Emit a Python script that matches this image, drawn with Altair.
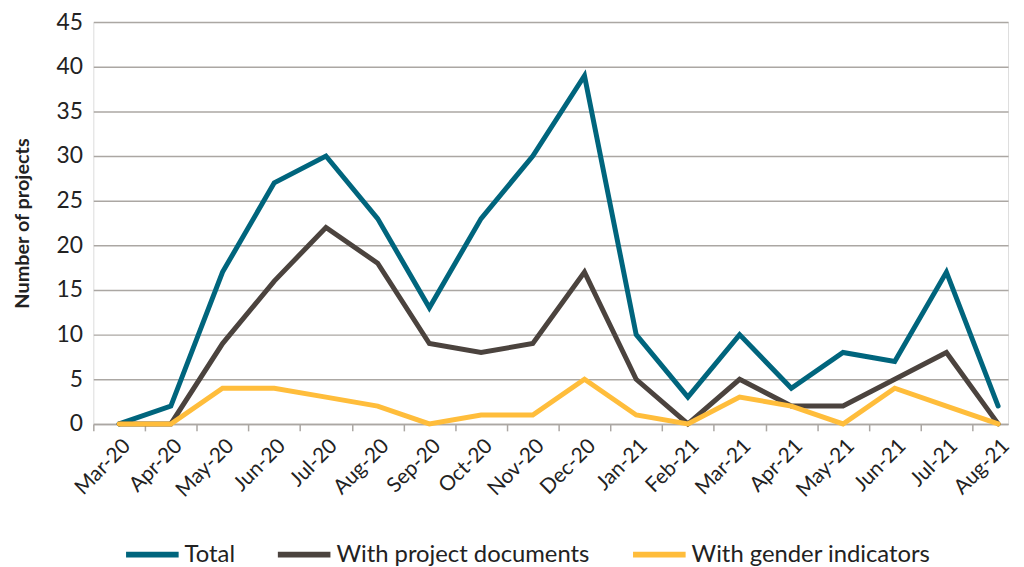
import altair as alt
import pandas as pd

months = ["Mar-20", "Apr-20", "May-20", "Jun-20", "Jul-20", "Aug-20", "Sep-20", "Oct-20",
          "Nov-20", "Dec-20", "Jan-21", "Feb-21", "Mar-21", "Apr-21", "May-21", "Jun-21",
          "Jul-21", "Aug-21"]
total = [0, 2, 17, 27, 30, 23, 13, 23, 30, 39, 10, 3, 10, 4, 8, 7, 17, 2]
with_docs = [0, 0, 9, 16, 22, 18, 9, 8, 9, 17, 5, 0, 5, 2, 2, 5, 8, 0]
with_gender = [0, 0, 4, 4, 3, 2, 0, 1, 1, 5, 1, 0, 3, 2, 0, 4, 2, 0]

series_names = ["Total", "With project documents", "With gender indicators"]
series_values = [total, with_docs, with_gender]
colors = ["#00657D", "#4B433E", "#FFBD3B"]

rows = []
for name, vals in zip(series_names, series_values):
    for m, v in zip(months, vals):
        rows.append({"month": m, "value": v, "series": name})
df = pd.DataFrame(rows)

FONT = "Lato"
TXT = "#222222"
GRID = "#ABA7A3"

x = alt.X(
    "month:O", sort=months,
    scale=alt.Scale(type="point", padding=0.3455, align=0.7222),
    axis=alt.Axis(title=None, labelAngle=-45, labelFontSize=21, labelFont=FONT,
                  labelColor=TXT, tickOffset=-26, labelOffset=26, tickSize=7,
                  tickColor=GRID, tickWidth=1.5, domainColor=GRID, domainWidth=1.5,
                  labelPadding=4, grid=False),
)
y = alt.Y(
    "value:Q",
    scale=alt.Scale(domain=[0, 45], nice=False),
    axis=alt.Axis(title="Number of projects", values=list(range(0, 50, 5)),
                  labelFontSize=23, labelFont=FONT, labelColor=TXT,
                  titleFontSize=20, titleFont=FONT, titleColor=TXT, titleFontWeight="bold",
                  titlePadding=24, ticks=False, domain=False, labelPadding=11,
                  grid=True, gridColor=GRID, gridWidth=1.5),
)
color = alt.Color(
    "series:N",
    scale=alt.Scale(domain=series_names, range=colors),
    legend=alt.Legend(title=None, orient="none", legendX=30, legendY=507,
                      direction="horizontal", symbolType="stroke", symbolStrokeWidth=6,
                      symbolSize=2809, labelFontSize=24, labelFont=FONT, labelColor=TXT,
                      labelOffset=3, columnPadding=31, labelLimit=0, padding=0),
)

layers = []
for name in series_names:
    layers.append(
        alt.Chart(df)
        .transform_filter(alt.datum.series == name)
        .mark_line(strokeWidth=5, strokeJoin="miter", strokeCap="round")
        .encode(x=x, y=y, color=color)
    )

chart = alt.layer(*layers).properties(
    width=922, height=405,
    autosize=alt.AutoSizeParams(type="none"),
    padding={"left": 86, "top": 12, "right": 8, "bottom": 142},
).configure_view(stroke=None).configure(background="white")

chart.save("out.html", embed_options={"renderer": "svg", "actions": False})
